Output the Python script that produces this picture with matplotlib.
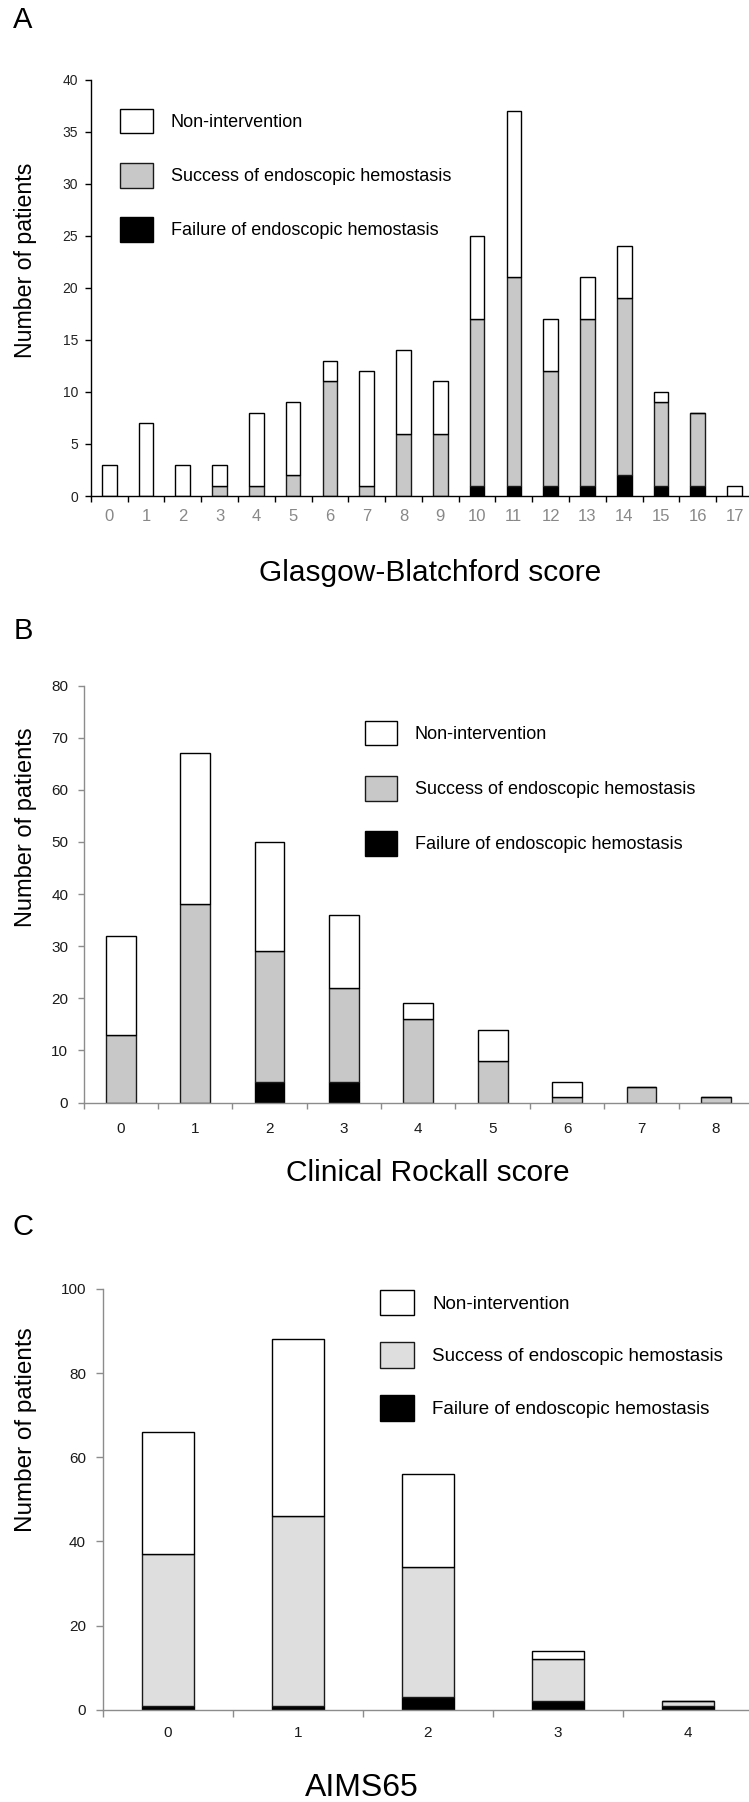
import matplotlib
matplotlib.use("Agg")
import matplotlib.pyplot as plt
from matplotlib.ticker import FixedLocator, MultipleLocator

# ---------------- data ----------------
gbs_scores = list(range(18))
gbs_fail = [0, 0, 0, 0, 0, 0, 0, 0, 0, 0, 1, 1, 1, 1, 2, 1, 1, 0]
gbs_success = [0, 0, 0, 1, 1, 2, 11, 1, 6, 6, 16, 20, 11, 16, 17, 8, 7, 0]
gbs_non = [3, 7, 3, 2, 7, 7, 2, 11, 8, 5, 8, 16, 5, 4, 5, 1, 0, 1]

rock_scores = list(range(9))
rock_fail = [0, 0, 4, 4, 0, 0, 0, 0, 0]
rock_success = [13, 38, 25, 18, 16, 8, 1, 3, 1]
rock_non = [19, 29, 21, 14, 3, 6, 3, 0, 0]

aims_scores = list(range(5))
aims_fail = [1, 1, 3, 2, 1]
aims_success = [36, 45, 31, 10, 1]
aims_non = [29, 42, 22, 2, 0]

labels = ["Non-intervention", "Success of endoscopic hemostasis",
          "Failure of endoscopic hemostasis"]

W, H = 749, 1802
fig = plt.figure(figsize=(W / 100, H / 100), dpi=100)
SANS = ["Liberation Sans", "DejaVu Sans"]
NARROW = ["Liberation Sans Narrow", "Liberation Sans", "DejaVu Sans"]


def fx(px):
    return px / W


def fy(py):
    return 1 - py / H


def axes_px(left, top, right, bottom):
    return fig.add_axes([fx(left), fy(bottom), (right - left) / W, (bottom - top) / H])


def panel(ax, cats, fail, success, non, grey, ymax, ystep, spine_col,
          xtick_col, ytick_col, xpad, ypad, tsize, ysize, tlen, leg_xy, leg_fs,
          hl, hh, ls, htp):
    b1 = ax.bar(cats, fail, width=0.4, color="black", edgecolor="black", linewidth=1.0)
    bottom2 = fail
    b2 = ax.bar(cats, success, width=0.4, bottom=bottom2, color=grey,
                edgecolor="#1a1a1a", linewidth=1.0)
    bottom3 = [f + s for f, s in zip(fail, success)]
    b3 = ax.bar(cats, non, width=0.4, bottom=bottom3, color="white",
                edgecolor="black", linewidth=1.0)
    ax.set_xlim(-0.5, len(cats) - 0.5)
    ax.set_ylim(0, ymax)
    for s in ["top", "right"]:
        ax.spines[s].set_visible(False)
    for s in ["left", "bottom"]:
        ax.spines[s].set_color(spine_col)
        ax.spines[s].set_linewidth(1.0)
    ax.set_xticks(cats)
    ax.set_xticklabels([str(c) for c in cats])
    ax.xaxis.set_minor_locator(FixedLocator([c - 0.5 for c in cats] + [len(cats) - 0.5]))
    ax.tick_params(axis="x", which="major", length=0, pad=xpad, labelcolor=xtick_col,
                   labelsize=tsize)
    ax.tick_params(axis="x", which="minor", length=tlen, width=1.0, color=spine_col,
                   direction="out")
    ax.yaxis.set_major_locator(MultipleLocator(ystep))
    ax.tick_params(axis="y", which="major", length=tlen, width=1.0, color=spine_col,
                   pad=ypad, labelcolor=ytick_col, labelsize=ysize, direction="out")
    for t in ax.get_xticklabels() + ax.get_yticklabels():
        t.set_fontfamily(NARROW)
    ax.legend([b3, b2, b1], labels, loc="upper left",
              bbox_to_anchor=(fx(leg_xy[0]), fy(leg_xy[1])),
              bbox_transform=fig.transFigure, frameon=False, borderpad=0,
              borderaxespad=0, prop={"family": SANS, "size": leg_fs},
              handlelength=hl, handleheight=hh, labelspacing=ls, handletextpad=htp)


# Panel A
axA = axes_px(90.8, 79.6, 753, 496)
panel(axA, gbs_scores, gbs_fail, gbs_success, gbs_non, "#c8c8c8", 40, 5, "black",
      "#888888", "#222222", 9, 5, 12, 10, 4, (120, 108.5), 13, 1.83, 1.75, 1.62, 0.97)

# Panel B
axB = axes_px(83.6, 685.6, 753, 1102.5)
panel(axB, rock_scores, rock_fail, rock_success, rock_non, "#c8c8c8", 80, 10, "#8c8c8c",
      "#1a1a1a", "#1a1a1a", 14, 7, 11, 11, 4, (364.5, 720.5), 13, 1.78, 1.75, 1.68, 1.0)

# Panel C
axC = axes_px(102.7, 1289, 753, 1709.8)
panel(axC, aims_scores, aims_fail, aims_success, aims_non, "#dedede", 100, 20, "#8c8c8c",
      "#1a1a1a", "#1a1a1a", 12, 7, 11, 11, 5, (380, 1289.5), 13.5, 1.8, 1.75, 1.44, 1.0)

# Text
fig.text(fx(23), fy(20), "A", fontsize=21, family=SANS, ha="center", va="center")
fig.text(fx(23), fy(631), "B", fontsize=21, family=SANS, ha="center", va="center")
fig.text(fx(23), fy(1227), "C", fontsize=21, family=SANS, ha="center", va="center")

fig.text(fx(430), fy(573), "Glasgow-Blatchford score", fontsize=21.5, family=SANS,
         ha="center", va="center")
fig.text(fx(428), fy(1173), "Clinical Rockall score", fontsize=21.5, family=SANS,
         ha="center", va="center")
fig.text(fx(362), fy(1796), "AIMS65", fontsize=23, family=SANS,
         ha="center", va="baseline")

for yc, fs in [(260, 16.7), (827, 17), (1430, 17.5)]:
    fig.text(fx(26), fy(yc), "Number of patients", fontsize=fs, family=SANS,
             rotation=90, ha="center", va="center")

fig.savefig("out.png", dpi=100)
